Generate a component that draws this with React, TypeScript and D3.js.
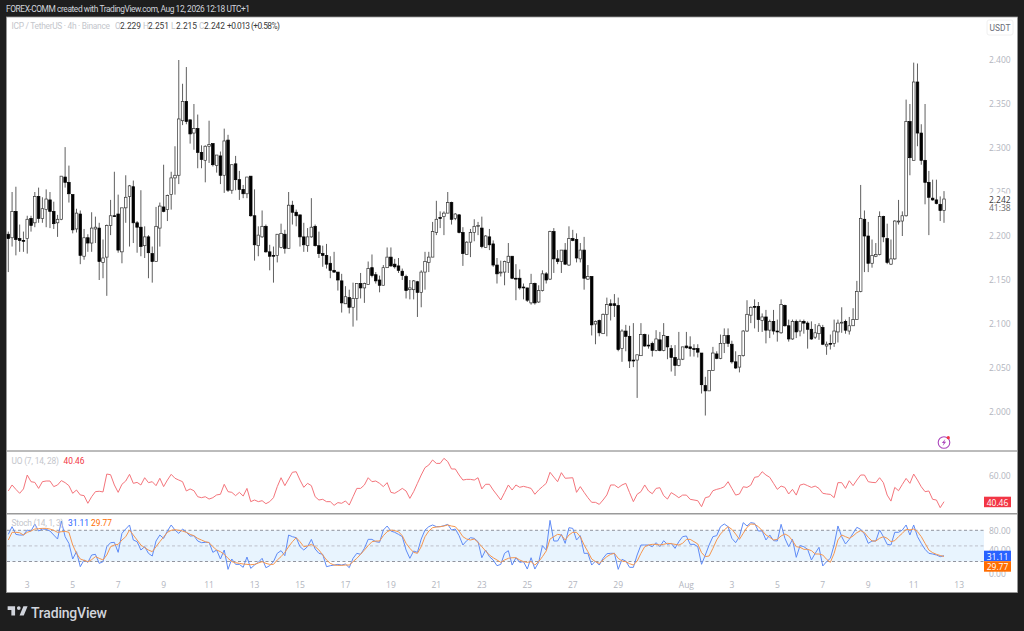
import { useEffect, useRef } from "react";
import * as d3 from "d3";

const WIDTH = 1024;
const HEIGHT = 631;

// 4h bars, left to right
const opens = [
  2.202,2.198,2.228,2.197,2.195,2.197,2.220,2.215,2.245,2.220,
  2.230,2.241,2.228,2.215,2.219,2.267,2.261,2.247,2.208,2.225,
  2.177,2.198,2.192,2.208,2.209,2.170,2.176,2.212,2.223,2.225,
  2.182,2.232,2.245,2.256,2.215,2.210,2.189,2.199,2.180,2.171,
  2.209,2.233,2.230,2.247,2.266,2.269,2.331,2.353,2.332,2.317,
  2.322,2.295,2.286,2.302,2.305,2.280,2.291,2.269,2.309,2.252,
  2.282,2.264,2.253,2.248,2.268,2.223,2.189,2.199,2.211,2.182,
  2.178,2.178,2.187,2.202,2.186,2.235,2.227,2.224,2.199,2.189,
  2.199,2.211,2.189,2.180,2.178,2.169,2.161,2.159,2.149,2.123,
  2.130,2.119,2.129,2.146,2.141,2.145,2.164,2.156,2.150,2.144,
  2.164,2.176,2.168,2.166,2.160,2.154,2.139,2.139,2.148,2.136,
  2.159,2.170,2.176,2.204,2.221,2.222,2.226,2.238,2.220,2.224,
  2.204,2.179,2.193,2.204,2.211,2.209,2.187,2.199,2.191,2.167,
  2.158,2.159,2.170,2.177,2.152,2.152,2.142,2.141,2.124,2.146,
  2.125,2.138,2.157,2.151,2.205,2.174,2.171,2.184,2.167,2.197,
  2.196,2.174,2.184,2.151,2.154,2.100,2.104,2.089,2.111,2.123,
  2.123,2.121,2.072,2.092,2.086,2.059,2.059,2.064,2.088,2.076,
  2.078,2.070,2.082,2.070,2.086,2.072,2.062,2.053,2.060,2.075,
  2.074,2.072,2.072,2.067,2.030,2.024,2.047,2.066,2.061,2.078,
  2.087,2.077,2.057,2.051,2.064,2.092,2.110,2.120,2.120,2.104,
  2.108,2.093,2.103,2.092,2.090,2.121,2.098,2.083,2.103,2.092,
  2.103,2.101,2.094,2.085,2.089,2.096,2.075,2.078,2.078,2.091,
  2.101,2.103,2.092,2.098,2.105,2.137,2.219,2.200,2.169,2.177,
  2.179,2.222,2.197,2.168,2.174,2.216,2.217,2.223,2.330,2.286,
  2.375,2.317,2.286,2.261,2.243,2.241,2.236,2.229,
];
const highs = [
  2.205,2.250,2.256,2.213,2.205,2.223,2.223,2.250,2.255,2.244,
  2.253,2.250,2.239,2.224,2.268,2.301,2.280,2.247,2.231,2.229,
  2.208,2.202,2.227,2.222,2.215,2.196,2.213,2.241,2.273,2.247,
  2.232,2.269,2.258,2.263,2.217,2.252,2.211,2.201,2.188,2.233,
  2.238,2.281,2.247,2.273,2.302,2.400,2.373,2.392,2.332,2.350,
  2.338,2.303,2.303,2.331,2.305,2.292,2.296,2.322,2.315,2.281,
  2.291,2.274,2.258,2.267,2.268,2.253,2.211,2.229,2.213,2.190,
  2.188,2.202,2.214,2.207,2.250,2.240,2.230,2.224,2.215,2.209,
  2.243,2.213,2.205,2.189,2.191,2.177,2.182,2.159,2.157,2.143,
  2.139,2.147,2.146,2.158,2.147,2.171,2.179,2.159,2.155,2.167,
  2.187,2.187,2.174,2.175,2.163,2.156,2.150,2.150,2.149,2.161,
  2.182,2.182,2.216,2.240,2.228,2.228,2.250,2.239,2.226,2.225,
  2.210,2.194,2.208,2.219,2.216,2.222,2.201,2.208,2.195,2.175,
  2.172,2.172,2.192,2.177,2.168,2.162,2.146,2.141,2.157,2.147,
  2.144,2.161,2.159,2.206,2.209,2.184,2.184,2.192,2.211,2.207,
  2.203,2.192,2.199,2.167,2.154,2.104,2.105,2.112,2.130,2.128,
  2.134,2.130,2.094,2.099,2.098,2.101,2.065,2.101,2.089,2.088,
  2.080,2.093,2.091,2.101,2.086,2.076,2.076,2.091,2.074,2.091,
  2.086,2.077,2.077,2.067,2.040,2.047,2.074,2.069,2.088,2.095,
  2.095,2.081,2.069,2.064,2.093,2.127,2.120,2.128,2.125,2.112,
  2.116,2.105,2.116,2.105,2.128,2.122,2.105,2.105,2.105,2.105,
  2.105,2.103,2.103,2.100,2.101,2.099,2.080,2.088,2.105,2.105,
  2.119,2.105,2.108,2.118,2.149,2.258,2.229,2.216,2.196,2.192,
  2.228,2.223,2.214,2.196,2.218,2.241,2.228,2.355,2.350,2.397,
  2.396,2.327,2.350,2.274,2.264,2.264,2.245,2.251,
];
const lows = [
  2.159,2.188,2.178,2.182,2.182,2.180,2.205,2.210,2.215,2.215,
  2.210,2.209,2.208,2.199,2.218,2.255,2.238,2.203,2.204,2.168,
  2.173,2.182,2.182,2.192,2.150,2.152,2.132,2.201,2.222,2.181,
  2.169,2.215,2.188,2.192,2.181,2.177,2.175,2.152,2.147,2.171,
  2.188,2.227,2.217,2.230,2.247,2.259,2.326,2.327,2.305,2.298,
  2.277,2.277,2.261,2.283,2.279,2.272,2.259,2.249,2.250,2.248,
  2.252,2.241,2.243,2.243,2.222,2.172,2.177,2.198,2.181,2.161,
  2.147,2.170,2.186,2.180,2.186,2.213,2.211,2.188,2.182,2.182,
  2.198,2.188,2.175,2.165,2.163,2.152,2.158,2.138,2.113,2.123,
  2.112,2.097,2.104,2.129,2.124,2.145,2.153,2.146,2.136,2.144,
  2.164,2.165,2.163,2.158,2.150,2.129,2.128,2.128,2.108,2.119,
  2.139,2.159,2.176,2.201,2.209,2.201,2.226,2.213,2.218,2.203,
  2.166,2.179,2.176,2.194,2.201,2.186,2.187,2.184,2.165,2.146,
  2.154,2.144,2.158,2.151,2.127,2.139,2.128,2.125,2.122,2.122,
  2.124,2.137,2.146,2.150,2.158,2.168,2.158,2.167,2.166,2.194,
  2.170,2.170,2.139,2.150,2.087,2.077,2.086,2.089,2.086,2.104,
  2.108,2.069,2.057,2.069,2.050,2.051,2.016,2.064,2.074,2.072,
  2.063,2.069,2.069,2.069,2.060,2.046,2.041,2.052,2.059,2.072,
  2.063,2.063,2.062,2.021,1.996,2.024,2.047,2.060,2.060,2.067,
  2.074,2.055,2.049,2.045,2.063,2.091,2.101,2.095,2.091,2.091,
  2.078,2.084,2.088,2.080,2.089,2.097,2.080,2.082,2.084,2.086,
  2.089,2.072,2.082,2.083,2.082,2.076,2.065,2.071,2.074,2.079,
  2.090,2.089,2.088,2.098,2.105,2.136,2.159,2.159,2.164,2.176,
  2.178,2.193,2.168,2.167,2.173,2.213,2.200,2.222,2.269,2.286,
  2.302,2.281,2.236,2.201,2.240,2.236,2.217,2.215,
];
const closes = [
  2.197,2.228,2.196,2.195,2.194,2.219,2.212,2.245,2.220,2.231,
  2.242,2.228,2.214,2.219,2.268,2.261,2.248,2.207,2.226,2.178,
  2.198,2.192,2.209,2.210,2.171,2.175,2.212,2.223,2.222,2.184,
  2.232,2.244,2.257,2.215,2.210,2.188,2.199,2.181,2.171,2.211,
  2.234,2.228,2.246,2.266,2.269,2.333,2.353,2.330,2.316,2.322,
  2.295,2.287,2.302,2.304,2.281,2.292,2.269,2.308,2.252,2.281,
  2.264,2.253,2.248,2.267,2.223,2.190,2.201,2.211,2.182,2.177,
  2.177,2.202,2.203,2.186,2.235,2.227,2.223,2.199,2.190,2.199,
  2.210,2.189,2.180,2.178,2.168,2.161,2.159,2.150,2.124,2.131,
  2.119,2.129,2.146,2.141,2.146,2.163,2.155,2.149,2.144,2.164,
  2.176,2.166,2.165,2.161,2.155,2.138,2.141,2.149,2.136,2.159,
  2.171,2.176,2.205,2.219,2.220,2.226,2.238,2.219,2.225,2.204,
  2.180,2.193,2.204,2.211,2.212,2.188,2.200,2.190,2.167,2.157,
  2.159,2.171,2.177,2.152,2.151,2.141,2.141,2.127,2.146,2.124,
  2.138,2.157,2.150,2.205,2.174,2.171,2.184,2.168,2.197,2.195,
  2.175,2.184,2.152,2.154,2.099,2.103,2.090,2.111,2.122,2.121,
  2.121,2.071,2.092,2.086,2.058,2.058,2.065,2.088,2.075,2.075,
  2.070,2.083,2.070,2.087,2.074,2.062,2.053,2.060,2.074,2.073,
  2.072,2.071,2.068,2.031,2.024,2.047,2.067,2.061,2.078,2.087,
  2.078,2.057,2.050,2.064,2.092,2.111,2.119,2.119,2.105,2.108,
  2.093,2.103,2.092,2.091,2.122,2.098,2.083,2.103,2.091,2.103,
  2.101,2.094,2.083,2.090,2.098,2.077,2.077,2.077,2.092,2.101,
  2.102,2.093,2.098,2.105,2.137,2.220,2.200,2.169,2.178,2.179,
  2.222,2.199,2.170,2.174,2.217,2.217,2.223,2.330,2.289,2.375,
  2.317,2.286,2.261,2.244,2.241,2.237,2.229,2.242,
];

// Ultimate Oscillator (7, 14, 28)
const uoValues = [
  48.3,52.7,49.5,46.6,49.8,60.0,55.1,54.6,50.2,55.1,
  55.6,55.6,51.5,52.7,55.9,54.4,52.2,46.6,49.0,45.4,
  44.9,39.3,44.1,47.8,48.1,47.6,60.7,60.2,52.7,47.3,
  53.2,55.6,60.5,53.9,54.6,52.7,58.0,54.4,55.1,52.2,
  57.6,51.5,56.3,60.5,57.6,56.3,55.1,48.3,49.8,48.5,
  44.1,43.4,44.1,42.4,43.4,45.4,45.9,53.2,47.8,47.3,
  44.9,47.3,44.6,50.2,40.5,41.7,40.5,41.2,39.0,40.5,
  43.4,51.5,58.0,52.2,57.1,62.0,62.4,56.3,51.0,53.9,
  52.2,44.1,41.7,42.2,40.5,40.5,37.8,39.8,39.3,41.0,
  38.0,44.1,50.2,50.2,52.7,58.0,55.1,55.6,53.9,51.5,
  54.4,47.3,46.6,48.3,50.2,48.3,42.9,47.8,53.9,60.0,
  65.4,67.3,71.0,68.5,68.5,72.2,69.8,64.4,64.4,60.0,
  56.3,56.8,56.8,56.3,58.0,49.8,53.2,53.2,49.0,45.4,
  41.7,47.1,52.7,49.0,52.7,51.0,51.7,51.0,50.2,45.9,
  49.0,51.5,53.9,62.0,58.5,55.1,61.7,57.6,57.8,58.0,
  47.3,51.5,47.3,43.4,40.0,40.0,38.5,41.7,45.4,52.7,
  52.7,50.7,52.7,53.9,47.1,40.5,45.9,47.8,52.7,48.3,
  46.3,50.2,50.7,44.9,42.4,47.1,45.4,43.4,45.3,45.3,
  42.2,41.7,41.2,36.8,43.4,44.1,48.5,49.5,50.2,51.4,
  55.1,50.2,45.3,46.1,51.4,50.9,52.6,58.3,58.8,62.4,
  60.0,58.3,53.9,49.5,51.9,50.9,46.1,49.5,45.3,52.6,
  53.4,52.2,50.9,51.9,50.2,46.6,46.1,45.8,43.4,54.4,
  54.4,50.2,55.8,52.2,56.3,60.0,60.0,55.1,54.6,54.4,
  58.0,54.4,45.3,40.9,50.9,48.5,53.1,57.5,53.9,60.7,
  56.3,51.4,47.8,48.3,42.2,41.7,36.1,40.46,
];

// Stoch (14, 1, 3)
const stochK = [
  72.2,87.0,72.2,70.9,70.9,80.5,78.6,92.1,78.6,82.5,
  81.8,78.6,70.9,63.2,97.9,67.7,54.9,24.8,38.9,10.0,
  22.9,18.4,32.5,33.8,16.4,19.7,48.5,56.2,56.8,37.6,
  74.1,82.5,90.2,61.3,58.1,42.1,48.5,35.7,30.5,59.4,
  70.9,64.5,78.6,90.2,80.5,74.1,82.5,76.1,69.0,69.6,
  59.4,56.2,56.8,56.8,37.6,42.1,24.8,42.1,4.9,24.8,
  14.5,14.5,8.8,28.6,6.8,13.2,18.4,26.1,8.1,11.9,
  19.7,35.7,40.8,31.2,70.9,67.7,65.8,48.5,42.1,48.5,
  62.6,44.0,35.7,33.8,10.0,11.9,13.2,14.5,13.2,15.2,
  8.1,26.1,35.7,33.8,45.3,62.6,62.6,58.1,56.8,80.5,
  88.2,78.6,76.1,72.2,67.7,42.1,26.1,40.2,37.6,63.2,
  80.5,87.0,90.2,87.0,87.0,88.9,91.4,80.5,82.5,69.6,
  51.7,60.0,65.8,64.5,58.1,27.3,42.1,29.3,22.9,11.9,
  14.5,35.7,40.8,13.2,27.3,18.4,19.7,5.5,27.3,5.5,
  18.4,50.4,42.1,99.1,59.4,59.4,72.2,54.9,85.0,83.7,
  61.3,69.6,35.7,35.7,13.2,20.9,13.2,26.1,35.0,35.7,
  35.7,4.9,24.1,20.9,8.8,8.8,32.5,51.7,51.7,51.7,
  48.5,56.2,48.5,60.0,53.0,54.9,45.3,58.1,67.8,69.1,
  53.0,53.0,48.5,14.6,32.5,51.8,67.8,69.7,87.0,92.1,
  87.0,64.6,56.2,67.8,94.7,88.3,94.7,93.4,78.7,78.7,
  61.4,71.0,60.1,59.4,91.5,64.6,48.5,62.6,28.0,50.5,
  48.5,43.4,22.9,35.7,47.3,11.4,19.7,26.1,51.8,88.3,
  67.8,53.7,62.6,74.2,85.7,81.9,72.9,54.9,59.4,59.4,
  80.6,67.8,53.0,51.8,76.1,76.1,80.6,90.2,71.0,90.2,
  67.8,54.9,43.4,35.7,34.4,32.5,29.3,31.11,
];
const stochD = [
  61.3,76.1,76.1,75.4,70.9,76.1,78.6,82.5,83.1,83.7,
  83.7,82.5,79.9,76.1,77.3,78.0,76.1,51.7,35.7,24.8,
  22.2,19.7,23.5,29.3,26.1,22.9,32.5,48.5,51.7,53.0,
  61.3,67.7,80.5,70.9,61.3,51.7,46.6,42.1,38.9,48.5,
  58.1,67.1,76.1,79.9,81.2,79.9,78.6,76.1,72.2,69.6,
  64.5,61.3,58.1,56.2,48.5,42.1,38.9,33.8,26.1,19.7,
  17.7,16.4,15.2,14.5,13.9,14.5,17.1,19.7,16.4,14.5,
  14.5,22.9,29.3,37.6,48.5,58.1,65.8,58.1,48.5,49.8,
  53.0,48.5,42.1,32.5,22.9,16.4,13.2,12.6,12.6,13.2,
  13.2,19.7,26.1,33.8,42.1,50.4,58.1,59.4,59.4,69.6,
  77.3,80.5,79.3,77.3,69.6,54.9,45.3,37.6,35.7,48.5,
  67.7,78.6,85.0,86.3,87.0,88.2,90.2,88.2,87.0,78.6,
  67.7,63.2,61.3,63.2,56.8,48.5,40.2,32.5,27.3,22.9,
  18.4,22.9,26.1,27.3,27.3,22.9,19.7,18.4,19.7,13.2,
  19.7,29.3,40.2,63.2,67.7,72.2,70.9,61.3,70.9,76.1,
  76.1,67.7,51.7,38.9,24.8,19.7,16.4,22.9,29.3,33.8,
  35.7,26.1,20.9,19.7,15.8,13.2,20.9,35.7,48.5,51.7,
  53.0,53.0,51.7,53.0,54.9,54.3,53.0,51.7,55.0,62.6,
  62.6,58.2,53.7,37.0,29.3,30.6,45.3,61.4,72.9,80.6,
  87.0,81.9,72.9,62.6,74.2,85.7,92.1,91.5,87.0,79.3,
  71.0,66.5,61.4,62.6,69.1,72.9,69.1,60.1,48.5,47.3,
  43.4,43.4,40.9,34.4,34.4,32.5,24.2,18.4,35.7,61.4,
  71.0,67.8,64.6,69.1,75.5,79.3,75.5,66.5,59.4,59.4,
  64.6,67.8,64.6,58.2,60.1,67.8,74.2,81.9,80.6,82.5,
  77.4,67.8,55.0,42.1,37.0,33.8,31.5,29.77,
];

const priceTicks = [2.0, 2.05, 2.1, 2.15, 2.2, 2.25, 2.3, 2.35, 2.4];
const tickBars = [5, 17, 29, 41, 53, 65, 77, 89, 101, 113, 125, 137, 149, 161, 179, 191, 203, 215, 227, 239, 251];
const tickLabels = ["3", "5", "7", "9", "11", "13", "15", "17", "19", "21", "23", "25", "27", "29", "Aug", "3", "5", "7", "9", "11", "13"];
const stochLevels = [80, 50, 20];

const AXIS_FONT = "'Open Sans', 'Liberation Sans', sans-serif";
const LABEL_FONT = "Roboto, 'Liberation Sans', sans-serif";
const UP_FILL = "#ffffff";
const INK = "#000000";
const AXIS_GREY = "#b2b5be";
const LEGEND_GREY = "#c4c6cc";

export default function App() {
  const ref = useRef<SVGSVGElement | null>(null);

  useEffect(() => {
    const svg = d3.select(ref.current);
    svg.selectAll("*").remove();

    const x = d3.scaleLinear().domain([0, opens.length - 1]).range([8.3, 944]);
    const y = d3.scaleLinear().domain([2.0, 2.4]).range([412, 60]);
    const yUo = d3.scaleLinear().domain([40.46, 60]).range([501.7, 475]);
    const yStoch = d3.scaleLinear().domain([20, 80]).range([561.5, 530.3]);

    const text = (
      tx: number,
      ty: number,
      s: string,
      fill: string,
      size = 8.5,
      anchor = "start",
      font = AXIS_FONT
    ) =>
      svg
        .append("text")
        .attr("x", tx)
        .attr("y", ty)
        .attr("fill", fill)
        .attr("font-size", size)
        .attr("font-family", font)
        .attr("text-anchor", anchor)
        .attr("dominant-baseline", "central")
        .text(s);

    // frame
    svg.append("rect").attr("width", WIDTH).attr("height", HEIGHT).attr("fill", "#1e1e1e");
    svg
      .append("rect")
      .attr("x", 6.5)
      .attr("y", 17)
      .attr("width", 1011)
      .attr("height", 575.5)
      .attr("fill", "#ffffff")
      .attr("stroke", "#9a9a9a")
      .attr("stroke-width", 0.8);

    // pane separators
    svg.append("line").attr("x1", 7).attr("x2", 1017).attr("y1", 451).attr("y2", 451).attr("stroke", "#787878").attr("stroke-width", 1);
    svg.append("line").attr("x1", 7).attr("x2", 1017).attr("y1", 513.7).attr("y2", 513.7).attr("stroke", "#9a9a9a").attr("stroke-width", 1.4);

    // candles
    const candles = svg.append("g");
    opens.forEach((o, i) => {
      const c = closes[i];
      const up = c >= o;
      candles
        .append("line")
        .attr("x1", x(i))
        .attr("x2", x(i))
        .attr("y1", y(highs[i]))
        .attr("y2", y(lows[i]))
        .attr("stroke", "#2a2a2a")
        .attr("stroke-width", 0.75);
      const top = y(Math.max(o, c));
      const h = Math.max(Math.abs(y(o) - y(c)), 0.8);
      candles
        .append("rect")
        .attr("x", x(i) - 1.3)
        .attr("y", top)
        .attr("width", 2.6)
        .attr("height", h)
        .attr("fill", up ? UP_FILL : INK)
        .attr("stroke", up ? "#333333" : INK)
        .attr("stroke-width", 0.7);
    });

    // price axis
    const priceAxis = svg
      .append("g")
      .attr("transform", "translate(989,0)")
      .call(d3.axisRight(y).tickValues(priceTicks).tickFormat(d3.format(".3f")).tickSize(0).tickPadding(0));
    priceAxis.select(".domain").remove();
    priceAxis.selectAll("text").attr("fill", AXIS_GREY).attr("font-size", 8.5).attr("font-family", AXIS_FONT).attr("dy", "0.32em");

    // last price label sits over the 2.250 tick
    svg.append("rect").attr("x", 984).attr("y", 193.5).attr("width", 32).attr("height", 18).attr("fill", "#ffffff");
    text(989, y(closes[closes.length - 1]), "2.242", "#3a3a3a", 8.5);
    text(989, 207.5, "41:38", "#6a6a6a", 8.5);

    // currency box
    svg.append("rect").attr("x", 987).attr("y", 20).attr("width", 26).attr("height", 15).attr("rx", 2).attr("fill", "#ffffff").attr("stroke", "#f0f0f0").attr("stroke-width", 1);
    text(1000, 27.7, "USDT", "#6a6d78", 8.4, "middle", LABEL_FONT);

    // legend
    text(11.5, 26, "ICP / TetherUS · 4h · Binance", LEGEND_GREY, 8.4, "start", LABEL_FONT).attr("textLength", 98.5);
    const ohlc: [number, string, number, string][] = [
      [115, "O", 120, "2.229"],
      [143, "H", 148, "2.251"],
      [171, "L", 176, "2.215"],
      [199, "C", 204, "2.242"],
    ];
    ohlc.forEach(([lx, l, vx, v]) => {
      text(lx, 26, l, LEGEND_GREY, 8.2, "start", LABEL_FONT);
      text(vx, 26, v, "#3a3a3a", 8.4, "start", LABEL_FONT);
    });
    text(227, 26, "+0.013 (+0.58%)", "#3a3a3a", 8.4, "start", LABEL_FONT).attr("textLength", 53);
    text(6, 9, "FOREX-COMM created with TradingView.com, Aug 12, 2026 12:18 UTC+1", "#d1d4dc", 8.4, "start", LABEL_FONT).attr("textLength", 244);

    // UO pane
    const uoLine = d3
      .line<number>()
      .x((_, i) => x(i))
      .y((d) => yUo(d));
    svg.append("path").datum(uoValues).attr("fill", "none").attr("stroke", "#f4757c").attr("stroke-width", 1).attr("d", uoLine);
    text(11.5, 461, "UO (7, 14, 28)", LEGEND_GREY, 8.4, "start", LABEL_FONT).attr("textLength", 47.5);
    text(63.5, 461, "40.46", "#f23645", 8.4, "start", LABEL_FONT);
    text(989, yUo(60), "60.00", AXIS_GREY, 8.5);
    svg.append("rect").attr("x", 984).attr("y", 496.7).attr("width", 27).attr("height", 10.5).attr("fill", "#f23645");
    text(997.5, 502, "40.46", "#ffffff", 8.5, "middle");

    // Stoch pane
    svg
      .append("rect")
      .attr("x", 7)
      .attr("y", yStoch(80))
      .attr("width", 977)
      .attr("height", yStoch(20) - yStoch(80))
      .attr("fill", "#2196f3")
      .attr("fill-opacity", 0.1);
    stochLevels.forEach((lvl) => {
      svg
        .append("line")
        .attr("x1", 7)
        .attr("x2", 984)
        .attr("y1", yStoch(lvl))
        .attr("y2", yStoch(lvl))
        .attr("stroke", lvl === 50 ? "#b2b5be" : "#787b86")
        .attr("stroke-width", 0.8)
        .attr("stroke-dasharray", "3 2.5");
    });
    const stochLine = d3
      .line<number>()
      .x((_, i) => x(i))
      .y((d) => yStoch(d));
    svg.append("path").datum(stochK).attr("fill", "none").attr("stroke", "#5f8bf6").attr("stroke-width", 1).attr("d", stochLine);
    svg.append("path").datum(stochD).attr("fill", "none").attr("stroke", "#f5964f").attr("stroke-width", 1).attr("d", stochLine);
    text(11.5, 523, "Stoch (14, 1, 3)", LEGEND_GREY, 8.4, "start", LABEL_FONT).attr("textLength", 52);
    text(68, 523, "31.11", "#2962ff", 8.4, "start", LABEL_FONT);
    text(91, 523, "29.77", "#ff6d00", 8.4, "start", LABEL_FONT);
    text(989, yStoch(80), "80.00", AXIS_GREY, 8.5);
    text(989, 549.5, "40.00", AXIS_GREY, 8.5);
    text(989, 573.5, "0.00", AXIS_GREY, 8.5);
    svg.append("rect").attr("x", 984).attr("y", 550.7).attr("width", 27).attr("height", 10.5).attr("fill", "#2962ff");
    text(997.5, 556, "31.11", "#ffffff", 8.5, "middle");
    svg.append("rect").attr("x", 984).attr("y", 561.2).attr("width", 27).attr("height", 10.5).attr("fill", "#ff6d00");
    text(997.5, 566.5, "29.77", "#ffffff", 8.5, "middle");

    // time axis
    tickBars.forEach((b, i) => {
      text(x(b), 584, tickLabels[i], AXIS_GREY, 8.5, "middle");
    });

    // lightning badge
    const badge = svg.append("g").attr("transform", "translate(944,442.5)");
    badge.append("circle").attr("r", 5.8).attr("fill", "#ffffff").attr("stroke", "#ab47bc").attr("stroke-width", 1.1);
    badge.append("path").attr("d", "M1.4,-3.6 L-2.2,0.6 L-0.2,0.6 L-1.4,3.6 L2.2,-0.8 L0.2,-0.8 Z").attr("fill", "#ab47bc");
    badge.append("circle").attr("cx", 4.3).attr("cy", -4.8).attr("r", 1.6).attr("fill", "#f23645");

    // logo
    svg
      .append("path")
      .attr("d", "M14 6H2v6h6v9h6V6Zm14 15h-6.8L27.4 6h6.8l-6.2 15ZM20 12a3 3 0 1 0 0-6 3 3 0 0 0 0 6Z")
      .attr("transform", "translate(6.4,602.5) scale(0.62)")
      .attr("fill", "#d1d4dc");
    text(31, 612.5, "TradingView", "#d1d4dc", 14, "start", LABEL_FONT).attr("font-weight", 500).attr("textLength", 76);
  }, []);

  return (
    <svg
      ref={ref}
      width={WIDTH}
      height={HEIGHT}
      style={{ position: "absolute", left: 0, top: 0, display: "block" }}
    />
  );
}
